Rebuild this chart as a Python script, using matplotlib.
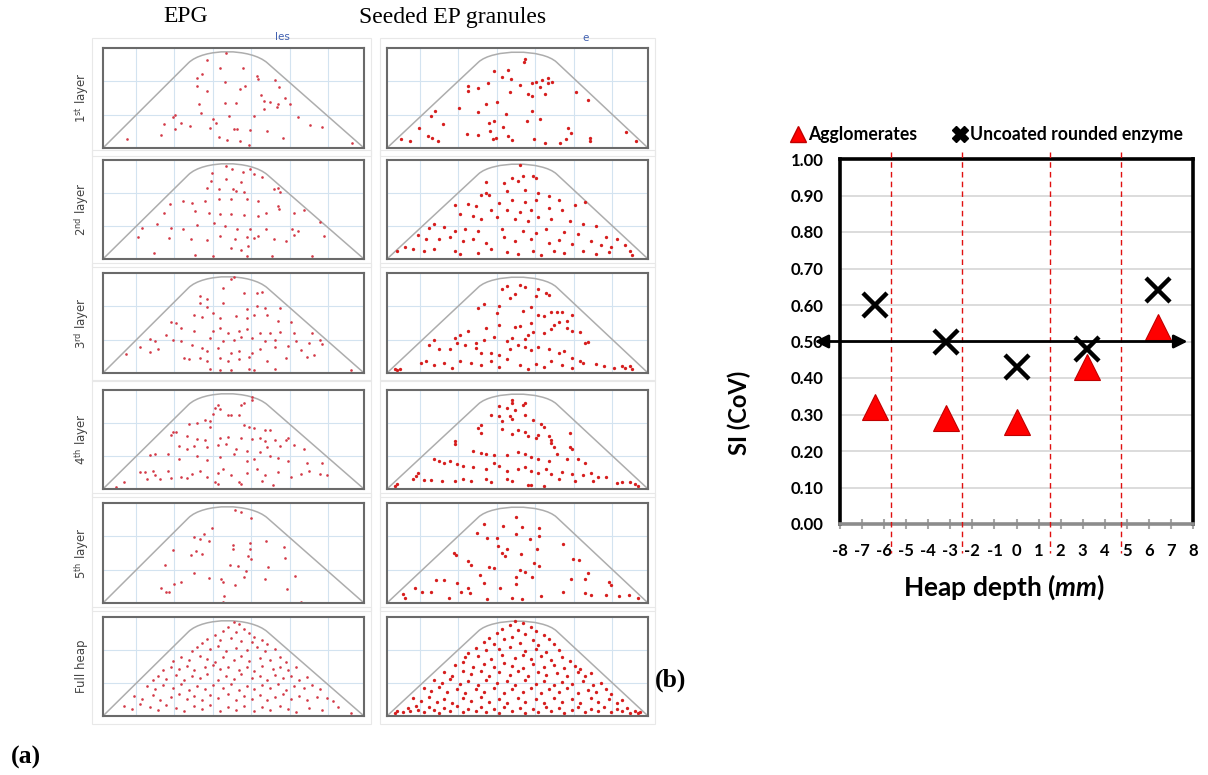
import numpy as np
import matplotlib
matplotlib.use("Agg")
import matplotlib.pyplot as plt
from matplotlib.path import Path
from matplotlib.patches import PathPatch, Rectangle
from matplotlib.lines import Line2D

# ---------------- data: panel (b) ----------------
depth = [-6.4, -3.2, 0.0, 3.2, 6.4]
si_agglomerates = [0.32, 0.29, 0.28, 0.43, 0.54]
si_uncoated = [0.60, 0.50, 0.43, 0.48, 0.64]
zone_bounds = [-5.7, -2.45, 1.5, 4.75]
reference_si = 0.50
y_ticks = [0.0, 0.1, 0.2, 0.3, 0.4, 0.5, 0.6, 0.7, 0.8, 0.9, 1.0]
x_ticks = list(range(-8, 9))
legend_labels = ["Agglomerates", "Uncoated rounded enzyme"]

# ---------------- data: panel (a) (granule positions, % of panel) ----------------
row_labels = ["1$^{\\mathrm{st}}$ layer", "2$^{\\mathrm{nd}}$ layer", "3$^{\\mathrm{rd}}$ layer",
              "4$^{\\mathrm{th}}$ layer", "5$^{\\mathrm{th}}$ layer", "Full heap"]
col_titles = ["EPG", "Seeded EP granules"]

epg_1 = [(47.2,94.9),(39.9,88.1),(44.7,80.3),(53.7,80.3),(38.1,73.6),(36.1,70.2),(58.9,72.5),(65.8,67.8),
         (59.4,69.2),(46.9,65.8),(36.1,61.7),(39.9,57.3),(54.3,61.7),(52.5,59.3),(67.3,61.0),(60.4,53.2),
         (69.6,50.5),(36.8,44.1),(46.7,44.7),(51.0,44.7),(61.6,47.5),(63.8,46.4),(67.0,44.1),(66.8,40.7),
         (61.5,39.0),(37.6,34.6),(27.7,32.9),(26.8,31.2),(48.2,31.9),(57.7,31.9),(71.5,43.7),(74.6,31.2),
         (23.4,23.7),(29.7,25.4),(33.5,22.4),(42.2,29.5),(43.4,24.7),(41.1,20.0),(50.1,19.3),(51.3,19.3),
         (56.5,17.6),(62.7,16.6),(79.5,23.4),(84.0,21.0),(27.4,18.6),(22.1,13.2),(9.1,8.8),(44.4,11.5),
         (47.5,8.5),(52.4,7.5),(55.9,3.4),(68.8,10.2),(95.4,4.7)]
seeded_1 = [(52.9,89.2),(52.6,85.9),(41.1,77.4),(46.2,78.1),(43.9,70.7),(47.7,69.0),(31.2,62.3),(31.2,57.2),
            (35.0,59.9),(38.8,64.6),(51.1,63.3),(55.4,64.6),(57.2,65.7),(59.5,68.4),(61.8,70.0),(63.3,65.7),
            (61.5,64.6),(47.2,55.6),(54.1,54.5),(55.7,52.2),(60.6,54.5),(58.7,61.3),(72.5,56.2),(77.1,47.8),
            (42.2,46.5),(38.1,44.4),(27.4,40.4),(35.0,36.4),(45.7,33.7),(55.4,37.0),(53.5,26.9),(58.7,28.6),
            (41.1,26.9),(39.1,25.3),(44.6,20.9),(30.7,14.5),(34.7,12.8),(18.2,37.0),(16.7,32.0),(21.6,23.6),
            (12.1,20.2),(39.6,16.8),(41.9,10.1),(46.2,11.8),(48.0,8.4),(56.4,9.1),(60.6,5.1),(69.4,20.2),
            (70.6,15.2),(68.7,9.1),(66.4,5.1),(77.8,10.1),(77.8,7.4),(91.6,16.2),(95.4,6.7),(5.5,9.4),
            (8.7,7.4),(15.6,11.8),(17.4,10.1),(19.7,6.7),(40.7,9.4)]
epg_2 = [(47.0,94.2),(49.6,90.8),(53.7,88.1),(41.7,86.4),(56.5,90.8),(60.8,82.4),(58.0,85.8),(41.2,79.0),
         (47.3,80.7),(52.7,78.0),(39.7,72.2),(44.3,71.2),(49.9,71.2),(50.8,68.8),(54.2,67.8),(65.6,71.2),
         (67.9,67.8),(66.9,72.2),(30.5,58.6),(34.0,56.9),(38.9,58.6),(44.3,61.0),(49.0,60.3),(55.0,61.0),
         (59.5,58.6),(67.2,53.6),(67.6,50.8),(62.6,46.8),(73.3,46.8),(77.1,49.5),(25.6,55.3),(23.2,46.8),
         (35.1,48.5),(40.5,46.8),(45.0,45.1),(49.0,45.1),(54.2,44.1),(59.5,43.4),(20.6,34.9),(15.0,31.5),
         (25.9,31.5),(30.5,29.8),(35.9,33.9),(42.7,35.9),(46.6,33.2),(51.2,30.5),(56.5,30.5),(62.6,29.8),
         (72.5,29.8),(74.8,28.1),(83.2,37.3),(84.7,23.7),(13.4,22.4),(25.2,21.4),(33.6,20.3),(39.7,19.0),
         (45.0,23.7),(55.0,22.4),(58.0,21.4),(59.5,23.1),(65.6,20.3),(70.2,18.0),(55.7,12.9),(48.9,11.2),
         (52.7,9.5),(19.4,6.1),(35.1,4.4),(42.0,3.4),(55.0,3.4),(64.9,3.4),(80.2,3.4),(73.3,24.7),(50.4,19.7)]
seeded_2 = [(51,95),(52,84),(56,84),(57,82),(48,82),(45,77),(50,79),(38,78),(38,67),(36,65),(39,65),(46,69),
            (53,70),(58,67),(62,64),(66,60),(57,60),(53,58),(48,60),(43,57),(31,56),(34,54),(26,55),(40,50),
            (46,50),(51,47),(55,50),(62,52),(67,49),(72,55),(76,58),(28,45),(33,43),(36,40),(42,42),(49,40),
            (54,38),(58,42),(63,40),(70,38),(75,35),(80,33),(18,35),(16,31),(22,32),(26,28),(30,30),(35,28),
            (44,30),(52,28),(57,26),(61,30),(68,27),(73,25),(84,22),(88,20),(12,24),(15,20),(20,20),(24,22),
            (29,18),(33,20),(38,16),(45,22),(49,18),(55,20),(62,16),(66,19),(71,15),(78,18),(82,14),(86,12),
            (91,14),(7,12),(10,10),(14,8),(18,10),(26,8),(28,5),(35,6),(40,10),(46,7),(50,5),(56,8),(59,4),
            (64,8),(68,6),(75,8),(80,5),(85,7),(93,8),(94,4),(4,8)]
epg_3 = [(50,96),(49,94),(46,85),(54,80),(59,80),(61,81),(37,77),(40,74),(37,70),(46,70),(59,67),(55,64),
         (62,65),(68,65),(40,66),(42,60),(35,58),(38,56),(45,55),(51,57),(55,55),(58,58),(63,58),(67,52),
         (72,51),(26,51),(28,50),(30,45),(35,42),(42,42),(45,45),(48,40),(52,42),(55,44),(60,40),(64,40),
         (68,41),(73,40),(80,40),(24,38),(18,34),(20,32),(27,33),(30,32),(41,35),(46,32),(50,33),(53,36),
         (57,35),(62,32),(66,33),(74,32),(79,30),(83,33),(84,29),(14,26),(21,24),(18,21),(34,28),(38,25),
         (40,22),(44,25),(49,20),(52,22),(57,20),(60,24),(66,26),(71,27),(76,23),(81,18),(78,16),(31,15),
         (33,14),(37,15),(40,12),(45,15),(48,12),(52,14),(56,16),(63,12),(70,15),(9,19),(41,4),(45,3),
         (49,3),(56,4),(58,3),(66,4),(95,3)]
seeded_3 = [(46,87),(44,84),(51,88),(53,86),(49,79),(58,84),(61,80),(62,78),(57,77),(37,69),(35,65),(43,67),
            (47,75),(42,60),(52,62),(55,66),(58,58),(60,57),(63,61),(65,61),(67,61),(71,58),(69,52),(66,51),
            (55,50),(51,47),(49,46),(43,48),(38,45),(31,42),(28,38),(26,35),(34,30),(37,33),(41,36),(46,32),
            (48,35),(53,34),(54,38),(56,41),(60,40),(63,44),(64,48),(69,45),(71,42),(74,41),(76,30),(77,31),
            (18,33),(16,28),(20,24),(24,24),(27,30),(30,28),(34,25),(36,20),(40,20),(43,18),(47,24),(50,28),
            (53,26),(55,23),(58,26),(62,24),(66,20),(68,22),(71,15),(74,12),(13,10),(15,12),(18,8),(22,10),
            (25,5),(28,12),(32,10),(36,8),(40,12),(43,6),(46,14),(51,8),(54,4),(57,9),(60,6),(63,12),(67,8),
            (71,5),(75,10),(80,9),(83,7),(90,7),(91,5),(93,7),(94,4),(3,4),(4,3),(5,4),(87,5)]
epg_4 = [(57,93),(57,90),(54,87),(53,85),(44,85),(43,82),(45,81),(42,76),(48,75),(49,75),(52,75),(39,70),
         (41,69),(36,67),(33,66),(41,63),(56,63),(54,65),(58,62),(62,60),(64,60),(27,58),(28,58),(26,55),
         (32,54),(36,51),(39,50),(45,52),(48,53),(53,52),(57,51),(60,52),(66,50),(70,50),(71,52),(62,48),
         (29,43),(32,40),(35,43),(40,42),(44,44),(47,45),(51,40),(55,38),(60,37),(63,42),(68,43),(73,44),
         (77,40),(18,34),(20,35),(25,35),(29,30),(36,33),(40,29),(45,32),(50,35),(55,28),(58,30),(64,33),
         (67,31),(71,28),(78,26),(84,26),(14,17),(16,17),(19,18),(20,14),(25,18),(30,12),(32,11),(34,15),
         (37,18),(40,12),(44,16),(46,20),(49,14),(55,16),(59,20),(62,14),(67,17),(72,12),(76,15),(79,18),
         (83,15),(86,14),(17,10),(22,10),(26,11),(43,7),(44,5),(52,7),(53,5),(61,8),(65,4),(8,7),(5,2)]
seeded_4 = [(48,90),(48,87),(52,85),(53,87),(43,84),(46,82),(49,80),(40,75),(43,74),(47,74),(48,71),(44,69),
            (53,75),(56,70),(59,66),(60,63),(36,65),(35,62),(36,57),(26,48),(26,45),(44,61),(48,56),(50,60),
            (53,58),(54,54),(58,55),(57,52),(62,54),(63,50),(63,46),(64,42),(70,42),(71,40),(70,57),(33,38),
            (36,36),(38,35),(41,34),(46,34),(50,37),(53,35),(55,32),(58,30),(62,28),(65,35),(69,30),(73,30),
            (76,26),(18,30),(20,28),(22,26),(24,28),(27,25),(29,23),(33,22),(38,20),(41,26),(43,23),(46,18),
            (50,20),(53,22),(55,18),(58,16),(61,20),(63,15),(67,17),(71,15),(75,14),(78,16),(81,12),(84,12),
            (12,16),(11,13),(10,10),(14,9),(17,9),(21,8),(26,8),(29,10),(32,8),(38,10),(40,7),(46,10),(48,8),
            (54,4),(55,4),(60,3),(66,10),(72,8),(79,8),(88,6),(90,7),(93,7),(95,5),(4,5),(3,3),(96,3)]
epg_5 = [(50.7,93.2),(52.9,91.2),(56.7,85.5),(41.7,74.7),(34.8,65.9),(37.2,64.5),(38.6,68.6),(40.7,61.8),
         (49.8,57.8),(49.8,54.1),(56.4,60.1),(62.6,61.8),(69.4,56.1),(69.6,44.9),(27.0,53.4),(35.6,52.4),
         (33.9,48.3),(38.1,49.0),(56.2,54.4),(56.7,44.3),(23.9,38.2),(48.6,38.2),(51.9,37.2),(55.5,46.6),
         (63.3,36.5),(34.9,30.4),(54.7,32.1),(54.2,26.4),(40.6,24.7),(45.3,24.3),(62.0,24.3),(73.7,27.0),
         (45.8,20.6),(29.8,20.6),(27.3,18.6),(50.5,17.9),(22.1,15.2),(24.0,11.1),(25.3,11.1),(70.6,14.5),
         (46.4,6.8),(46.0,1.0),(75.8,1.0)]
seeded_5 = [(49.6,85.8),(37.2,79.0),(44.4,77.3),(51.6,75.6),(58.2,74.9),(34.6,70.5),(38.4,65.4),(42.3,65.4),
            (49.6,68.8),(54.7,63.7),(58.2,67.1),(67.6,58.6),(42.7,56.9),(43.9,50.2),(46.1,53.6),(45.3,46.8),
            (51.3,49.2),(57.3,53.6),(25.5,50.2),(26.3,47.8),(31.2,41.7),(32.0,38.3),(38.9,35.6),(41.0,34.9),
            (56.5,40.0),(58.2,36.6),(50.9,33.2),(52.9,31.5),(71.1,44.1),(73.6,43.4),(35.5,28.1),(49.6,26.4),
            (55.6,26.4),(37.2,19.7),(77.1,30.5),(70.4,23.7),(75.9,24.1),(84.9,21.4),(85.7,18.0),(43.2,14.6),
            (49.6,18.6),(18.6,23.1),(22.0,23.1),(26.7,20.3),(31.2,14.6),(28.4,11.2),(31.8,10.5),(13.4,11.2),
            (16.9,11.2),(10.8,14.6),(6.2,9.5),(6.9,5.1),(23.8,5.1),(38.4,4.4),(47.8,5.1),(51.8,4.4),
            (59.0,6.8),(67.6,11.2),(75.7,10.5),(78.0,7.8),(84.0,8.5),(88.8,7.1),(92.6,7.8),(96.0,5.1)]
epg_full = [(50,95),(52,93),(48,90),(54,88),(46,86),(51,85),(56,84),(43,82),(58,80),
            (40,78),(45,77),(49,79),(53,76),(57,75),(61,77),(38,74),(63,73),
            (36,70),(41,68),(44,71),(47,66),(51,69),(55,67),(59,70),(62,66),(66,68),(34,66),
            (30,60),(33,57),(37,61),(40,58),(43,55),(46,60),(50,57),(53,61),(56,56),(60,59),(64,57),(68,60),
            (70,55),(27,56),
            (26,50),(29,47),(32,51),(35,46),(39,49),(42,52),(45,47),(48,50),(52,46),(55,49),(58,45),(61,51),
            (65,47),(68,50),(71,46),(74,49),(23,46),
            (21,40),(24,37),(28,41),(31,36),(34,40),(37,38),(40,42),(44,36),(47,40),(50,37),(53,42),(57,38),
            (60,40),(63,36),(66,41),(69,38),(72,40),(75,36),(78,39),(19,36),
            (17,30),(20,27),(23,31),(27,28),(30,32),(33,26),(36,30),(39,27),(42,31),(46,28),(49,32),(52,26),
            (55,30),(58,27),(61,31),(64,28),(67,32),(70,26),(73,30),(77,28),(80,31),(83,27),
            (12,20),(15,17),(19,21),(22,16),(26,19),(29,22),(32,17),(35,20),(38,16),(41,21),(44,18),(48,22),
            (51,16),(54,20),(57,17),(60,21),(63,16),(66,19),(69,22),(72,17),(75,20),(78,16),(82,19),(86,18),
            (88,15),
            (8,10),(11,7),(14,12),(18,9),(21,6),(24,11),(28,8),(31,5),(35,10),(38,7),(41,11),(45,5),(48,9),
            (51,6),(54,10),(58,5),(61,9),(64,6),(68,10),(71,7),(74,4),(79,8),(84,6),(90,9),(95,3)]
seeded_full = [(49,96),(52,94),(47,92),(55,90),(44,88),(50,87),(57,86),(42,84),(53,83),(60,82),
               (39,79),(45,78),(48,80),(56,77),(62,78),(37,75),(41,73),(51,74),(58,72),(64,73),
               (34,69),(38,67),(43,68),(47,70),(53,66),(57,68),(61,65),(66,67),(31,64),
               (30,60),(35,61),(40,58),(44,62),(49,59),(52,62),(55,58),(59,61),(63,57),(67,60),(70,56),
               (26,52),(29,55),(33,50),(37,53),(41,49),(45,54),(48,51),(52,48),(56,53),(60,50),(64,52),
               (68,48),(72,51),(74,47),
               (22,44),(25,40),(29,45),(32,42),(36,45),(39,40),(43,44),(47,41),(50,45),(54,40),(58,44),
               (61,41),(65,43),(69,40),(73,44),(76,40),(78,43),
               (18,36),(21,33),(24,37),(28,32),(31,35),(35,31),(38,36),(42,33),(46,35),(49,31),(53,36),
               (57,32),(60,35),(64,31),(67,34),(71,32),(75,35),(79,31),(82,33),
               (14,28),(17,25),(20,29),(23,24),(27,27),(30,23),(34,27),(37,24),(41,28),(45,23),(48,27),
               (52,24),(55,28),(59,23),(62,27),(66,24),(69,28),(73,23),(77,26),(80,24),(84,27),(86,22),
               (10,18),(13,15),(16,19),(19,14),(22,17),(25,13),(29,18),(32,15),(36,19),(39,14),(43,17),
               (46,13),(50,18),(53,14),(57,17),(60,13),(64,18),(67,14),(71,17),(74,13),(78,18),(81,14),
               (85,17),(88,13),(90,16),
               (3,3),(4,5),(6,4),(8,8),(9,5),(11,10),(12,6),(14,4),(16,9),(18,6),(20,3),(22,8),(24,5),
               (27,10),(29,4),(31,7),(34,5),(36,9),(38,4),(41,7),(43,3),(45,9),(48,5),(51,8),(53,3),(56,7),
               (58,4),(61,9),(63,5),(66,8),(68,3),(71,6),(73,9),(76,4),(78,7),(81,5),(83,9),(86,4),(88,7),
               (90,5),(92,8),(93,3),(95,5),(96,3),(97,4)]

epg_panels = [epg_1, epg_2, epg_3, epg_4, epg_5, epg_full]
seeded_panels = [seeded_1, seeded_2, seeded_3, seeded_4, seeded_5, seeded_full]

# ---------------- figure ----------------
plt.rcParams["mathtext.fontset"] = "custom"
plt.rcParams["mathtext.rm"] = "DejaVu Sans"
plt.rcParams["mathtext.it"] = "Lato:style=italic:weight=bold"

W, H = 1208, 775
fig = plt.figure(figsize=(W / 100, H / 100), dpi=100)
fig.patch.set_facecolor("white")


def frect(x0, y0, x1, y1):
    return [x0 / W, 1 - y1 / H, (x1 - x0) / W, (y1 - y0) / H]


row_y = [(48, 148), (160, 259), (273, 373), (390, 489), (503, 603), (617, 716)]
epg_x = (103, 364)
seed_x = (387, 648)

CODES = [Path.MOVETO, Path.LINETO, Path.CURVE4, Path.CURVE4, Path.CURVE4, Path.LINETO]
heap_epg = Path([(0, 0), (32.7, 85), (38.5, 100), (56.5, 100), (63, 85), (100, 0)], CODES)
heap_seed = Path([(0, 0), (35, 85.75), (40.5, 99.2), (59.5, 99.2), (65, 85.75), (100, 0)], CODES)


def draw_panel(xr, yr, dots, heap, ms, col):
    a = fig.add_axes(frect(xr[0], yr[0], xr[1], yr[1]))
    a.set_xlim(0, 100)
    a.set_ylim(0, 100)
    a.set_xticks([])
    a.set_yticks([])
    for gx in [12.5, 27.2, 42.0, 56.7, 71.5, 86.2]:
        a.axvline(gx, color="#d3e3f0", lw=0.8, zorder=0)
    for gy in [33.3, 66.7]:
        a.axhline(gy, color="#d3e3f0", lw=0.8, zorder=0)
    a.add_patch(PathPatch(heap, fill=False, ec="#adadad", lw=1.1, zorder=1))
    xs = [d[0] for d in dots]
    ys = [d[1] for d in dots]
    a.plot(xs, ys, "o", ms=ms, color=col, mew=0, ls="none", zorder=2)
    for s in a.spines.values():
        s.set_color("#6a6a6a")
        s.set_linewidth(1.5)
    return a


for i, (yr, lab) in enumerate(zip(row_y, row_labels)):
    draw_panel(epg_x, yr, epg_panels[i], heap_epg, 1.9, "#d33a48")
    draw_panel(seed_x, yr, seeded_panels[i], heap_seed, 2.4, "#d61e1e")
    for (x0, x1) in [(92, 371), (380, 655)]:
        fig.patches.append(Rectangle((x0 / W, 1 - (yr[1] + 8) / H), (x1 - x0) / W,
                                     (yr[1] - yr[0] + 18) / H, transform=fig.transFigure,
                                     fill=False, ec="#e8e8e8", lw=0.8))
    fig.text(82 / W, 1 - (yr[0] + yr[1]) / 2 / H, lab, rotation=90, ha="center", va="center",
             fontsize=8.5, color="#444444", family="DejaVu Sans")

fig.text(186 / W, 1 - 17 / H, col_titles[0], ha="center", va="center",
         fontsize=17, family="Liberation Serif")
fig.text(453 / W, 1 - 17 / H, col_titles[1], ha="center", va="center",
         fontsize=17, family="Liberation Serif")
fig.text(282 / W, 1 - 37 / H, "les", ha="center", va="center", fontsize=7.5, color="#3f5fb0")
fig.text(586 / W, 1 - 38 / H, "e", ha="center", va="center", fontsize=7.5, color="#3f5fb0")
fig.text(26 / W, 1 - 757 / H, "(a)", ha="center", va="center", fontsize=18.5,
         fontweight="bold", family="Liberation Serif")
fig.text(671 / W, 1 - 680 / H, "(b)", ha="center", va="center", fontsize=18.5,
         fontweight="bold", family="Liberation Serif")

# ---------------- panel (b) ----------------
ax = fig.add_axes(frect(840, 159, 1193, 524))
ax.set_xlim(-8, 8)
ax.set_ylim(0, 1)
ax.set_yticks(y_ticks)
ax.set_yticklabels([f"{v:.2f}" for v in y_ticks], fontsize=12, fontweight="bold", family="Lato")
ax.set_xticks(x_ticks)
ax.set_xticklabels([str(v) for v in x_ticks], fontsize=12, fontweight="bold", family="Lato")
ax.tick_params(axis="y", length=0, pad=12)
ax.tick_params(axis="x", length=7, width=1.5, color="#a6a6a6", direction="inout", pad=10)
ax.yaxis.grid(True, color="#d9d9d9", lw=1.3)
ax.set_axisbelow(True)
for side in ["left", "top", "right"]:
    ax.spines[side].set_color("black")
    ax.spines[side].set_linewidth(2.6)
ax.spines["bottom"].set_color("#8c8c8c")
ax.spines["bottom"].set_linewidth(2.6)

for xb in zone_bounds:
    ax.plot([xb, xb], [1.02, -0.08], color="#e01010", lw=1.0, ls=(0, (4, 3)), clip_on=False, zorder=3)

ax.plot(depth, si_agglomerates, ls="none", marker="^", ms=19, color="#ff0000",
        mec="#c00000", mew=0.8, zorder=5, clip_on=False)
ax.plot(depth, si_uncoated, ls="none", marker="x", ms=17, mew=3.2, color="black",
        zorder=6, clip_on=False)

ax.annotate("", xy=(7.75, reference_si), xytext=(-9.15, reference_si),
            arrowprops=dict(arrowstyle="<|-|>", color="black", lw=2.0, mutation_scale=20,
                            shrinkA=0, shrinkB=0),
            annotation_clip=False, zorder=8)

fig.text(739 / W, 1 - 413 / H, "SI (CoV)", rotation=90, ha="center", va="center",
         fontsize=17, fontweight="bold", family="Lato")
fig.text(1004 / W, 1 - 587 / H, "Heap depth ($mm$)", ha="center", va="center",
         fontsize=19, fontweight="bold", family="Lato")

handles = [Line2D([], [], ls="none", marker="^", ms=12, color="#ff0000", mec="#c00000"),
           Line2D([], [], ls="none", marker="X", ms=12, color="black")]
ax.legend(handles, legend_labels, ncol=2, loc="center left", bbox_to_anchor=(-0.14, 1.066),
          frameon=False, handlelength=0.8, handletextpad=0.2, columnspacing=2.0,
          borderaxespad=0, borderpad=0, prop={"family": "Lato", "weight": "bold", "size": 12.7})

fig.savefig("out.png", dpi=100)
